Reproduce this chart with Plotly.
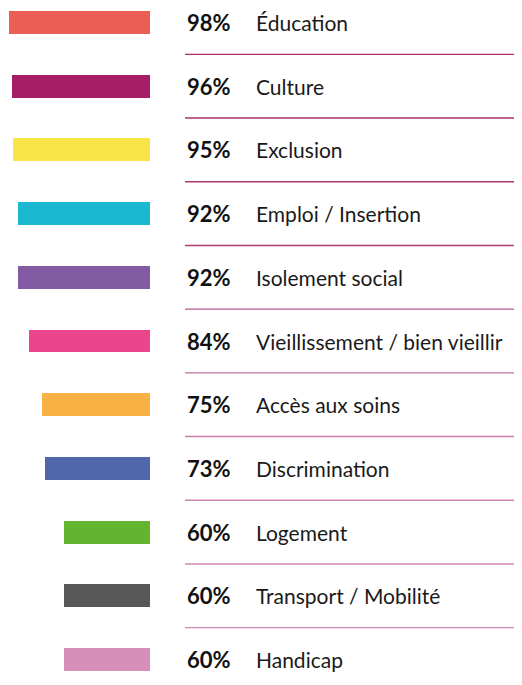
import plotly.graph_objects as go

categories = ["Éducation", "Culture", "Exclusion", "Emploi / Insertion", "Isolement social",
              "Vieillissement / bien vieillir", "Accès aux soins", "Discrimination",
              "Logement", "Transport / Mobilité", "Handicap"]
values = [98, 96, 95, 92, 92, 84, 75, 73, 60, 60, 60]
bar_colors = ["#eb5e55", "#a61e66", "#f9e547", "#1bb8d2", "#835ba2", "#ea458d",
              "#f9b143", "#5068ab", "#63b42f", "#575757", "#d68fb8"]
line_colors = ["#a8306e", "#a8306e", "#ab3671", "#ae3c76", "#b95a92", "#c56e9f",
               "#cc7eab", "#cf85b0", "#d088b4", "#d088b4"]

W, H = 522, 685
OFF = 8  # page body margin compensation
n = len(categories)
ys = list(range(n))

fig = go.Figure()
fig.add_trace(go.Bar(
    x=values, y=ys, orientation="h", base=0,
    marker=dict(color=bar_colors, line=dict(width=0)),
    width=0.36, hoverinfo="skip", showlegend=False,
))

for i, (v, c) in enumerate(zip(values, categories)):
    fig.add_annotation(x=(185 - OFF) / W, xref="paper", y=i, yref="y", text=f"<b>{v}%</b>",
                       showarrow=False, xanchor="left", yanchor="middle",
                       font=dict(family="Lato", size=22, color="#111111"))
    fig.add_annotation(x=(254 - OFF) / W, xref="paper", y=i, yref="y", text=c,
                       showarrow=False, xanchor="left", yanchor="middle",
                       font=dict(family="Lato", size=21, color="#1a1a1a"))

for i in range(n - 1):
    fig.add_shape(type="line", xref="paper", yref="y", x0=(185 - OFF) / W, x1=1,
                  y0=i + 0.5, y1=i + 0.5,
                  line=dict(color=line_colors[i], width=1.4))

px_per_row = 63.7
top = -(22.5 - OFF) / px_per_row
bottom = top + H / px_per_row
fig.update_layout(
    width=W, height=H, margin=dict(l=0, r=0, t=0, b=0),
    paper_bgcolor="white", plot_bgcolor="white",
    xaxis=dict(range=[(150 - OFF) / 1.44, 0], domain=[0, (150 - OFF) / W],
               visible=False, fixedrange=True),
    yaxis=dict(range=[bottom, top], visible=False, fixedrange=True),
    bargap=0,
)

fig.write_html("out.html")
